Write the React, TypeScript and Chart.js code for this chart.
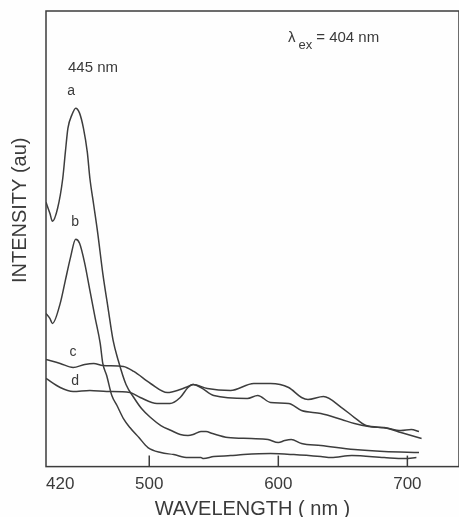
import React, { useEffect, useRef } from "react";
import { Chart, registerables } from "chart.js";

Chart.register(...registerables);

// Wavelength (nm) / intensity (arbitrary units)
const waveA = [420, 423, 425, 429, 433, 435, 437, 440, 443, 446, 449, 452, 454, 457, 460, 464, 468, 472, 476, 482, 488, 494, 501, 509, 517, 524, 530, 534, 540, 544, 549, 561, 579, 592, 600, 605, 610, 618, 633, 659, 682, 709];
const intA = [264, 253, 245, 258, 288, 314, 338, 351, 358, 353, 338, 314, 288, 261, 234, 193, 159, 126, 106, 82, 69, 58, 49, 41, 36, 32, 31, 32, 35, 35, 33, 29, 28, 27, 24, 26, 27, 23, 21, 17, 15, 14];

const waveB = [420, 423, 425, 431, 435, 439, 443, 446, 450, 454, 458, 462, 464, 467, 471, 475, 480, 485, 492, 499, 509, 519, 530, 540, 542, 550, 563, 573, 594, 612, 633, 641, 657, 682, 698, 707];
const intB = [153, 148, 143, 163, 186, 209, 227, 223, 203, 176, 149, 123, 103, 91, 71, 61, 48, 39, 29, 19, 14, 12, 9, 9, 8, 10, 11, 12, 13, 12, 10, 9, 11, 9, 8, 9];

const waveC = [420, 431, 441, 450, 457, 464, 480, 488, 501, 514, 524, 530, 534, 545, 563, 581, 594, 608, 618, 623, 635, 649, 659, 668, 682, 695, 703, 709];
const intC = [107, 103, 99, 102, 103, 101, 100, 95, 83, 74, 77, 80, 82, 78, 76, 83, 83, 79, 69, 67, 70, 59, 49, 41, 39, 36, 37, 35];

const waveD = [420, 431, 441, 454, 467, 485, 493, 506, 516, 524, 530, 534, 540, 550, 576, 584, 594, 608, 618, 633, 649, 659, 670, 685, 695, 711];
const intD = [88, 79, 75, 76, 75, 74, 69, 63, 63, 69, 79, 82, 79, 71, 68, 71, 64, 63, 56, 53, 47, 43, 40, 38, 34, 28];

const xTicks = [420, 500, 600, 700];
const xMin = 420;
const xMax = 740;
const yMax = 455;

const curveLabels = ["a", "b", "c", "d"];
const curveLabelWave = [439.5, 442.6, 441, 442.6];
const curveLabelInt = [375, 244, 114, 85];

const peakText = "445 nm";
const peakWave = 437;
const peakInt = 398;

const exText = "= 404 nm";
const exWave = 607.5;
const exInt = 428;

const xTitle = "WAVELENGTH ( nm )";
const yTitle = "INTENSITY (au)";
const yTitleInt = 256;

const LINE = "#3d3d3d";
const TEXT = "#3a3a3a";
const FONT = "'Liberation Sans', Arial, sans-serif";

function pts(w: number[], v: number[]) {
  return w.map((x, i) => ({ x, y: v[i] }));
}

const framePlugin = {
  id: "frameAndText",
  afterDraw(chart: any) {
    const { ctx, chartArea, scales } = chart;
    const xs = scales.x;
    const ys = scales.y;
    ctx.save();
    ctx.strokeStyle = LINE;
    ctx.lineWidth = 1.5;
    ctx.strokeRect(chartArea.left, chartArea.top, chartArea.right - chartArea.left, chartArea.bottom - chartArea.top);
    // inward ticks
    xTicks.forEach((t) => {
      if (t === xMin) return;
      const px = xs.getPixelForValue(t);
      ctx.beginPath();
      ctx.moveTo(px, chartArea.bottom);
      ctx.lineTo(px, chartArea.bottom - 11);
      ctx.stroke();
    });
    ctx.fillStyle = TEXT;
    ctx.textBaseline = "middle";
    // curve labels
    ctx.font = `14px ${FONT}`;
    ctx.textAlign = "center";
    curveLabels.forEach((l, i) => {
      ctx.fillText(l, xs.getPixelForValue(curveLabelWave[i]), ys.getPixelForValue(curveLabelInt[i]));
    });
    // peak text
    ctx.textAlign = "left";
    ctx.font = `15px ${FONT}`;
    ctx.fillText(peakText, xs.getPixelForValue(peakWave), ys.getPixelForValue(peakInt));
    // excitation text
    const ex0 = xs.getPixelForValue(exWave);
    const ey0 = ys.getPixelForValue(exInt);
    ctx.font = `15px ${FONT}`;
    ctx.fillText("λ", ex0, ey0);
    const lw = ctx.measureText("λ").width;
    ctx.font = `13px ${FONT}`;
    ctx.fillText("ex", ex0 + lw + 3, ey0 + 7);
    const ew = ctx.measureText("ex").width;
    ctx.font = `15px ${FONT}`;
    ctx.fillText(exText, ex0 + lw + 3 + ew + 4, ey0);
    // y title
    ctx.save();
    ctx.translate(20, ys.getPixelForValue(yTitleInt));
    ctx.rotate(-Math.PI / 2);
    ctx.textAlign = "center";
    ctx.font = `20px ${FONT}`;
    ctx.fillText(yTitle, 0, 0);
    ctx.restore();
    ctx.restore();
  },
};

export default function App() {
  const ref = useRef<HTMLCanvasElement | null>(null);
  useEffect(() => {
    if (!ref.current) return;
    const ds = (w: number[], v: number[]) => ({
      data: pts(w, v),
      borderColor: LINE,
      borderWidth: 1.5,
      pointRadius: 0,
      fill: false,
      cubicInterpolationMode: "monotone" as const,
    });
    const chart = new Chart(ref.current, {
      type: "line",
      data: {
        datasets: [ds(waveA, intA), ds(waveB, intB), ds(waveC, intC), ds(waveD, intD)],
      },
      options: {
        animation: false,
        responsive: true,
        maintainAspectRatio: false,
        parsing: false as any,
        layout: { padding: { left: 46, top: 11, right: 0, bottom: -4 } },
        plugins: { legend: { display: false }, tooltip: { enabled: false } },
        scales: {
          x: {
            type: "linear",
            min: xMin,
            max: xMax,
            grid: { display: false },
            border: { display: false },
            afterBuildTicks: (s: any) => {
              s.ticks = [...xTicks, xMax].map((v) => ({ value: v }));
            },
            ticks: {
              autoSkip: false,
              maxRotation: 0,
              align: "inner",
              padding: 0,
              color: TEXT,
              font: { size: 17, family: FONT },
              callback: (v: any) => (v === xMax ? "" : String(v)),
            },
            title: {
              display: true,
              text: xTitle,
              color: TEXT,
              font: { size: 20, family: FONT },
              padding: { top: 2, bottom: 0 },
            },
          },
          y: {
            type: "linear",
            display: false,
            min: 0,
            max: yMax,
          },
        },
      },
      plugins: [framePlugin],
    });
    return () => chart.destroy();
  }, []);
  return (
    <div style={{ position: "fixed", left: 0, top: 0, width: 459, height: 517, background: "#fefefe" }}>
      <canvas ref={ref} />
    </div>
  );
}
